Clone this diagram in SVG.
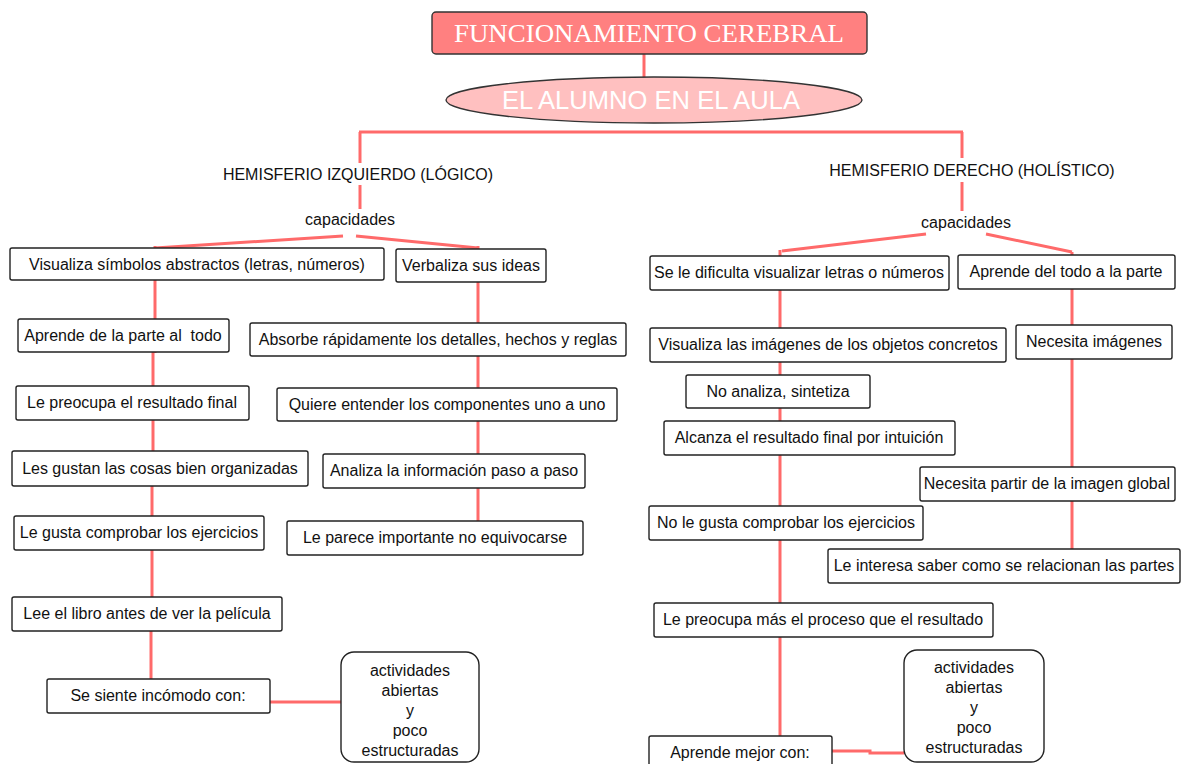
<svg xmlns="http://www.w3.org/2000/svg" width="1182" height="764" viewBox="0 0 1182 764">
<style>
.bg{fill:#ffffff}
.box{fill:#ffffff;stroke:#222222;stroke-width:1.4}
.t{font-family:"Liberation Sans",Arial,sans-serif;font-size:16px;fill:#111111;text-anchor:middle}
.lbl{font-family:"Liberation Sans",Arial,sans-serif;font-size:16px;fill:#111111;text-anchor:middle}
.ln{stroke:#ff6a6a;stroke-width:3;fill:none}
.title{font-family:"Liberation Serif","Times New Roman",serif;font-size:26px;fill:#ffffff;text-anchor:middle}
.sub{font-family:"Liberation Sans",Arial,sans-serif;font-size:25px;fill:#ffffff;text-anchor:middle}
</style>
<rect class="bg" x="0" y="0" width="1182" height="764"/>
<g id="connectors">
<line class="ln" x1="644" y1="54" x2="644" y2="79"/>
<line class="ln" x1="359" y1="132" x2="963" y2="132"/>
<line class="ln" x1="360" y1="132" x2="360" y2="163"/>
<line class="ln" x1="360" y1="185" x2="360" y2="209"/>
<line class="ln" x1="962" y1="132" x2="962" y2="158"/>
<line class="ln" x1="962" y1="182" x2="962" y2="211"/>
<polyline class="ln" points="155,248 343,236"/>
<polyline class="ln" points="356,236 478,248"/>
<polyline class="ln" points="782,251 926,234"/>
<polyline class="ln" points="986,234 1072,252"/>
<line class="ln" x1="155" y1="246" x2="155" y2="353"/>
<line class="ln" x1="153" y1="352" x2="153" y2="455"/>
<line class="ln" x1="152" y1="455" x2="152" y2="600"/>
<line class="ln" x1="151" y1="600" x2="151" y2="680"/>
<line class="ln" x1="478" y1="246" x2="478" y2="522"/>
<line class="ln" x1="270" y1="702" x2="341" y2="702"/>
<line class="ln" x1="780" y1="250" x2="780" y2="737"/>
<line class="ln" x1="1072" y1="252" x2="1072" y2="550"/>
<polyline class="ln" points="832,751 870,751 870,753 904,753"/>
</g>
<g id="n-title">
<rect x="432" y="12" width="435" height="42" rx="4" fill="#ff8080" stroke="#333333" stroke-width="1.4"/>
<text class="title" x="649" y="42" textLength="390" lengthAdjust="spacingAndGlyphs">FUNCIONAMIENTO CEREBRAL</text>
</g>
<g id="n-alumno">
<ellipse cx="654" cy="100" rx="208" ry="23" fill="#ffc0c0" stroke="#333333" stroke-width="1.4"/>
<text class="sub" x="651" y="109" textLength="298" lengthAdjust="spacingAndGlyphs">EL ALUMNO EN EL AULA</text>
</g>
<g id="n-hemi-izq"><text class="lbl" x="358" y="180">HEMISFERIO IZQUIERDO (LÓGICO)</text></g>
<g id="n-hemi-der"><text class="lbl" x="972" y="176">HEMISFERIO DERECHO (HOLÍSTICO)</text></g>
<g id="n-cap-izq"><text class="lbl" x="350" y="225">capacidades</text></g>
<g id="n-cap-der"><text class="lbl" x="966" y="228">capacidades</text></g>

<g id="n-l1"><rect class="box" x="10" y="248" width="374" height="32" rx="2"/><text class="t" x="197" y="270">Visualiza símbolos abstractos (letras, números)</text></g>
<g id="n-l2"><rect class="box" x="396" y="249" width="150" height="33" rx="2"/><text class="t" x="471" y="271">Verbaliza sus ideas</text></g>
<g id="n-l3"><rect class="box" x="18" y="319" width="211" height="33" rx="2"/><text class="t" x="123" y="341" xml:space="preserve">Aprende de la parte al  todo</text></g>
<g id="n-l4"><rect class="box" x="250" y="323" width="376" height="33" rx="2"/><text class="t" x="438" y="345">Absorbe rápidamente los detalles, hechos y reglas</text></g>
<g id="n-l5"><rect class="box" x="16" y="386" width="233" height="34" rx="2"/><text class="t" x="132" y="408">Le preocupa el resultado final</text></g>
<g id="n-l6"><rect class="box" x="277" y="388" width="340" height="33" rx="2"/><text class="t" x="447" y="410">Quiere entender los componentes uno a uno</text></g>
<g id="n-l7"><rect class="box" x="12" y="451" width="296" height="35" rx="2"/><text class="t" x="160" y="474">Les gustan las cosas bien organizadas</text></g>
<g id="n-l8"><rect class="box" x="323" y="454" width="262" height="34" rx="2"/><text class="t" x="454" y="476">Analiza la información paso a paso</text></g>
<g id="n-l9"><rect class="box" x="14" y="516" width="250" height="34" rx="2"/><text class="t" x="139" y="538">Le gusta comprobar los ejercicios</text></g>
<g id="n-l10"><rect class="box" x="287" y="521" width="296" height="34" rx="2"/><text class="t" x="435" y="543">Le parece importante no equivocarse</text></g>
<g id="n-l11"><rect class="box" x="12" y="597" width="270" height="34" rx="2"/><text class="t" x="147" y="619">Lee el libro antes de ver la película</text></g>
<g id="n-l12"><rect class="box" x="47" y="679" width="223" height="34" rx="2"/><text class="t" x="158" y="701">Se siente incómodo con:</text></g>
<g id="n-l13"><rect class="box" x="341" y="652" width="138" height="110" rx="13"/>
<text class="t" x="410" y="676">actividades</text><text class="t" x="410" y="696">abiertas</text><text class="t" x="410" y="716">y</text><text class="t" x="410" y="736">poco</text><text class="t" x="410" y="756">estructuradas</text></g>

<g id="n-r1"><rect class="box" x="650" y="256" width="299" height="34" rx="2"/><text class="t" x="799" y="278">Se le dificulta visualizar letras o números</text></g>
<g id="n-r2"><rect class="box" x="958" y="255" width="217" height="34" rx="2"/><text class="t" x="1066" y="277">Aprende del todo a la parte</text></g>
<g id="n-r3"><rect class="box" x="650" y="328" width="356" height="34" rx="2"/><text class="t" x="828" y="350">Visualiza las imágenes de los objetos concretos</text></g>
<g id="n-r4"><rect class="box" x="1016" y="325" width="156" height="34" rx="2"/><text class="t" x="1094" y="347">Necesita imágenes</text></g>
<g id="n-r5"><rect class="box" x="686" y="375" width="184" height="33" rx="2"/><text class="t" x="778" y="397">No analiza, sintetiza</text></g>
<g id="n-r6"><rect class="box" x="664" y="421" width="291" height="34" rx="2"/><text class="t" x="809" y="443">Alcanza el resultado final por intuición</text></g>
<g id="n-r7"><rect class="box" x="920" y="467" width="255" height="34" rx="2"/><text class="t" x="1047" y="489">Necesita partir de la imagen global</text></g>
<g id="n-r8"><rect class="box" x="649" y="506" width="274" height="34" rx="2"/><text class="t" x="786" y="528">No le gusta comprobar los ejercicios</text></g>
<g id="n-r9"><rect class="box" x="828" y="549" width="352" height="34" rx="2"/><text class="t" x="1004" y="571">Le interesa saber como se relacionan las partes</text></g>
<g id="n-r10"><rect class="box" x="654" y="603" width="339" height="34" rx="2"/><text class="t" x="823" y="625">Le preocupa más el proceso que el resultado</text></g>
<g id="n-r11"><rect class="box" x="649" y="736" width="183" height="34" rx="2"/><text class="t" x="740" y="758">Aprende mejor con:</text></g>
<g id="n-r12"><rect class="box" x="904" y="650" width="140" height="112" rx="13"/>
<text class="t" x="974" y="673">actividades</text><text class="t" x="974" y="693">abiertas</text><text class="t" x="974" y="713">y</text><text class="t" x="974" y="733">poco</text><text class="t" x="974" y="753">estructuradas</text></g>
</svg>
